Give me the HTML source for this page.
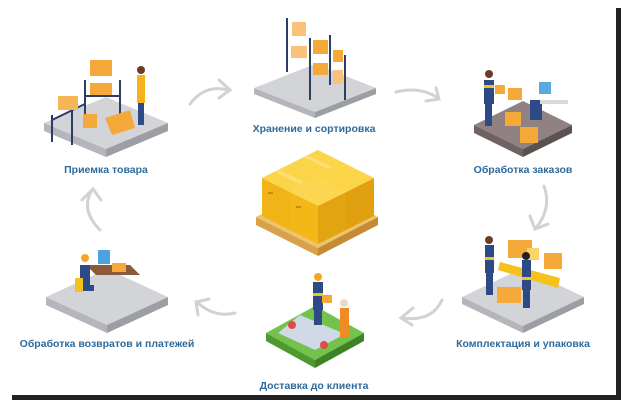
<!DOCTYPE html>
<html><head><meta charset="utf-8"><style>
html,body{margin:0;padding:0;background:#fff;}
svg{display:block}
text{font-family:"Liberation Sans",sans-serif;font-weight:bold;font-size:10.5px;fill:#2e6b9c;text-anchor:middle;}
</style></head><body>
<svg width="627" height="408" viewBox="0 0 627 408" xmlns="http://www.w3.org/2000/svg">
<rect width="627" height="408" fill="#fff"/>
<rect x="616" y="8" width="5" height="392" fill="#222"/>
<rect x="12" y="395" width="609" height="5" fill="#222"/>

<g fill="none" stroke="#cfd3d6" stroke-width="3" stroke-linecap="round">
<path d="M190 104 Q205 84 228 90"/><path d="M219 80 L230 90 L219 98"/>
<path d="M396 92 Q420 86 438 98"/><path d="M426 101 L439 99 L436 88"/>
<path d="M544 186 Q552 208 536 228"/><path d="M530 216 L535 229 L548 224"/>
<path d="M442 300 Q432 322 403 318"/><path d="M413 308 L401 318 L412 325"/>
<path d="M235 313 Q215 318 198 303"/><path d="M198 315 L196 302 L209 299"/>
<path d="M100 230 Q80 210 92 190"/><path d="M82 200 L93 189 L101 200"/>
</g>

<g>
<polygon points="106,97 168,123 106,149 44,123" fill="#d3d4d8"/>
<polygon points="44,123 106,149 106,157 44,131" fill="#b4b6bb"/>
<polygon points="106,149 168,123 168,131 106,157" fill="#9c9ea3"/>
<polygon points="315,64 376,88 315,112 254,88" fill="#d3d4d8"/>
<polygon points="254,88 315,112 315,118 254,94" fill="#b4b6bb"/>
<polygon points="315,112 376,88 376,94 315,118" fill="#9c9ea3"/>
<polygon points="523,101 572,125 523,149 474,125" fill="#8f8280"/>
<polygon points="474,125 523,149 523,157 474,133" fill="#6e6362"/>
<polygon points="523,149 572,125 572,133 523,157" fill="#5b5150"/>
<polygon points="523,268 584,297 523,326 462,297" fill="#d3d4d8"/>
<polygon points="462,297 523,326 523,333 462,304" fill="#b4b6bb"/>
<polygon points="523,326 584,297 584,304 523,333" fill="#9c9ea3"/>
<polygon points="315,306 364,333 315,360 266,333" fill="#72c24c"/>
<polygon points="266,333 315,360 315,368 266,341" fill="#4e9a30"/>
<polygon points="315,360 364,333 364,341 315,368" fill="#3e8226"/>
<polygon points="300,315 345,334 315,350 278,333" fill="#cfd8e4"/>
<circle cx="292" cy="325" r="4" fill="#e24a4a"/><circle cx="324" cy="345" r="4" fill="#e24a4a"/>
<polygon points="107,269 168,297 107,325 46,297" fill="#d3d4d8"/>
<polygon points="46,297 107,325 107,333 46,305" fill="#b4b6bb"/>
<polygon points="107,325 168,297 168,305 107,333" fill="#9c9ea3"/>
</g>

<g>
<g stroke="#2c3e66" stroke-width="2"><line x1="52" y1="115" x2="52" y2="142"/><line x1="72" y1="105" x2="72" y2="145"/><line x1="85" y1="80" x2="85" y2="122"/><line x1="120" y1="80" x2="120" y2="122"/><line x1="52" y1="120" x2="85" y2="104"/><line x1="85" y1="96" x2="120" y2="96"/></g>
<rect x="90" y="60" width="22" height="16" fill="#f6a93b"/><rect x="90" y="83" width="22" height="12" fill="#f6a93b"/>
<rect x="58" y="96" width="20" height="14" fill="#f8b556"/><rect x="83" y="114" width="14" height="14" fill="#f6a93b"/>
<polygon points="105,118 130,110 135,128 112,135" fill="#f6a93b"/>
<rect x="137" y="75" width="8" height="28" fill="#f5b21c"/><circle cx="141" cy="70" r="4" fill="#6b3d24"/>
<rect x="138" y="103" width="6" height="22" fill="#2c4a86"/>
</g>

<g>
<g stroke="#2c3e66" stroke-width="2"><line x1="287" y1="18" x2="287" y2="72"/><line x1="310" y1="38" x2="310" y2="100"/><line x1="330" y1="35" x2="330" y2="85"/><line x1="345" y1="55" x2="345" y2="100"/></g>
<rect x="292" y="22" width="14" height="14" fill="#f8c27a"/><rect x="291" y="46" width="16" height="12" fill="#f8c27a"/>
<rect x="313" y="40" width="15" height="14" fill="#f6a93b"/><rect x="313" y="63" width="15" height="12" fill="#f6a93b"/>
<rect x="333" y="50" width="10" height="12" fill="#f6a93b"/><rect x="333" y="70" width="10" height="14" fill="#f8c27a"/>
</g>

<g>
<rect x="484" y="80" width="10" height="24" fill="#2c4a86"/><rect x="484" y="85" width="10" height="3" fill="#f5c21b"/>
<circle cx="489" cy="74" r="4" fill="#6b3d24"/><rect x="485" y="104" width="7" height="22" fill="#2c4a86"/>
<rect x="495" y="85" width="10" height="9" fill="#f6a93b"/>
<rect x="508" y="88" width="14" height="12" fill="#f6a93b"/><rect x="505" y="112" width="16" height="14" fill="#f6a93b"/>
<rect x="520" y="127" width="18" height="16" fill="#f6a93b"/><rect x="530" y="100" width="12" height="20" fill="#2c4a86"/>
<rect x="539" y="82" width="12" height="12" fill="#5aa9e0"/><rect x="540" y="100" width="28" height="4" fill="#d9d9d9"/>
</g>

<g>
<polygon points="500,262 560,278 558,288 498,270" fill="#f5c21b"/>
<rect x="508" y="240" width="24" height="18" fill="#f6a93b"/><rect x="544" y="253" width="18" height="16" fill="#f6a93b"/>
<rect x="527" y="248" width="12" height="12" fill="#fbd36a"/>
<rect x="485" y="245" width="9" height="28" fill="#2c4a86"/><rect x="485" y="257" width="9" height="3" fill="#f5c21b"/>
<circle cx="489" cy="240" r="4" fill="#6b3d24"/><rect x="486" y="273" width="7" height="22" fill="#2c4a86"/>
<rect x="522" y="260" width="9" height="30" fill="#2c4a86"/><rect x="522" y="277" width="9" height="3" fill="#f5c21b"/>
<circle cx="526" cy="256" r="4" fill="#222"/><rect x="523" y="290" width="7" height="18" fill="#2c4a86"/>
<rect x="497" y="287" width="24" height="16" fill="#f6a93b"/>
</g>

<g>
<rect x="313" y="282" width="10" height="28" fill="#2c4a86"/><rect x="313" y="293" width="10" height="3" fill="#f5c21b"/>
<circle cx="318" cy="277" r="4" fill="#f5a623"/><rect x="314" y="310" width="8" height="15" fill="#2c4a86"/>
<rect x="322" y="295" width="10" height="8" fill="#f6a93b"/>
<rect x="340" y="308" width="9" height="30" fill="#f08a24"/><circle cx="344" cy="303" r="4" fill="#ead9c8"/>
</g>

<g>
<rect x="98" y="250" width="12" height="14" fill="#4aa3df"/>
<polygon points="86,265 130,265 140,275 96,275" fill="#8a5a3a"/>
<rect x="112" y="263" width="14" height="9" fill="#f6a93b"/>
<rect x="80" y="265" width="10" height="20" fill="#2c4a86"/><circle cx="85" cy="258" r="4" fill="#f5a623"/>
<rect x="80" y="285" width="14" height="6" fill="#2c4a86"/>
<rect x="75" y="278" width="8" height="14" fill="#f5c21b"/>
</g>

<!-- center pallet -->
<g>
<polygon points="256,217 318,248 378,217 318,186" fill="#efc36a"/>
<polygon points="256,217 318,248 318,256 256,225" fill="#d9a24a"/>
<polygon points="318,248 378,217 378,225 318,256" fill="#c48a34"/>
<!-- back box top -->
<polygon points="318,178 290,164 318,150 346,164" fill="#fbd447"/>
<!-- left box -->
<polygon points="290,230 262,216 262,178 290,192" fill="#f0b416"/>
<polygon points="290,192 262,178 290,164 318,178" fill="#fbd447"/>
<!-- right box -->
<polygon points="346,230 374,216 374,178 346,192" fill="#e0a010"/>
<polygon points="346,192 318,178 346,164 374,178" fill="#fbd447"/>
<!-- front box -->
<polygon points="318,244 290,230 290,192 318,206" fill="#f3b817"/>
<polygon points="318,244 346,230 346,192 318,206" fill="#e3a411"/>
<polygon points="318,206 290,192 318,178 346,192" fill="#fcd650"/>
<g fill="#c48a14"><rect x="268" y="192" width="5" height="2"/><rect x="296" y="206" width="5" height="2"/></g>
<g fill="#fde58a" opacity="0.7"><polygon points="275,172 300,184 304,182 279,170"/><polygon points="303,157 328,169 332,167 307,155"/></g>
</g>

<text x="106" y="173">Приемка товара</text>
<text x="314" y="132">Хранение и сортировка</text>
<text x="523" y="173">Обработка заказов</text>
<text x="523" y="347">Комплектация и упаковка</text>
<text x="314" y="389">Доставка до клиента</text>
<text x="107" y="347">Обработка возвратов и платежей</text>
</svg>
</body></html>
